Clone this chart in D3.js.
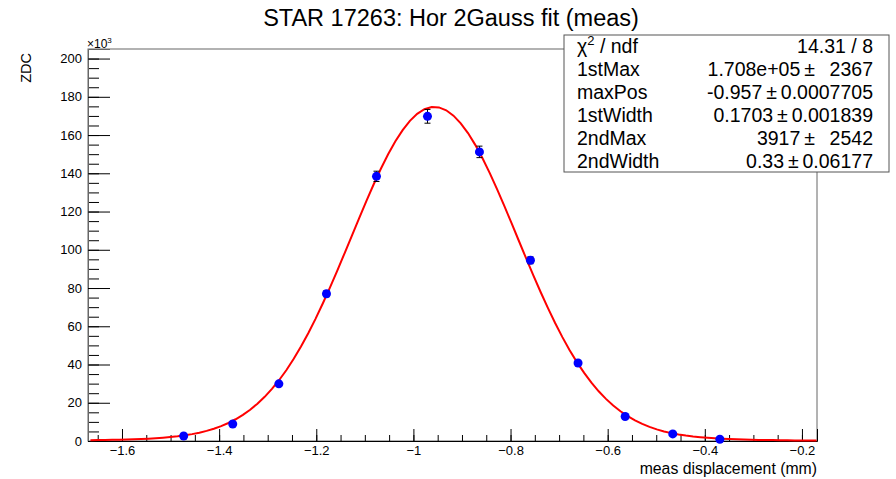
<!DOCTYPE html>
<html>
<head>
<meta charset="utf-8">
<script src="https://cdn.jsdelivr.net/npm/d3@7"></script>
<style>
  body { margin: 0; background: #fff; }
  text { font-family: "Liberation Sans", Arial, Helvetica, sans-serif; }
</style>
</head>
<body>
<div id="chart"></div>
<script>
// measured points (x in mm, y in units of 10^3)
const xVals = [-1.473, -1.372, -1.277, -1.179, -1.076, -0.971, -0.864, -0.759, -0.661, -0.564, -0.466, -0.369];
const yVals = [2.6, 8.9, 29.9, 77.0, 138.4, 169.8, 151.2, 94.5, 40.8, 12.8, 3.7, 0.9];
const yErrs = [0.5, 0.7, 1.0, 1.6, 2.7, 3.6, 3.0, 1.8, 1.1, 0.7, 0.5, 0.4];

// stats box
const statNames = ["1stMax", "maxPos", "1stWidth", "2ndMax", "2ndWidth"];
const statValues = ["1.708e+05", "-0.957", "0.1703", "3917", "0.33"];
const statErrors = [" 2367", "0.0007705", "0.001839", " 2542", "0.06177"];
const chi2Text = "14.31 / 8";

// fit parameters (as printed in the box)
const fitParams = [170800, -0.957, 0.1703, 3917, 0.33];

const xTicks = [-1.6, -1.4, -1.2, -1, -0.8, -0.6, -0.4, -0.2];
const yTicks = [0, 20, 40, 60, 80, 100, 120, 140, 160, 180, 200];

const W = 896, H = 479;
const frame = { left: 88, right: 817, top: 49, bottom: 441 };

const svg = d3.select('#chart')
    .append('svg')
    .attr('width', W)
    .attr('height', H);

const x = d3.scaleLinear()
    .domain([-1.67, -0.169])
    .range([frame.left, frame.right]);

const y = d3.scaleLinear()
    .domain([0, 205])
    .range([frame.bottom, frame.top]);

// frame
svg.append('rect')
    .attr('x', frame.left)
    .attr('y', frame.top)
    .attr('width', frame.right - frame.left)
    .attr('height', frame.bottom - frame.top)
    .attr('fill', 'none')
    .attr('stroke', '#666')
    .attr('stroke-width', 1);

// minor ticks
const xMinor = d3.range(-1.65, -0.17, 0.05).map(v => +v.toFixed(2));
const yMinor = d3.range(0, 205, 5);

svg.append('g')
    .attr('transform', `translate(0,${frame.bottom})`)
    .call(d3.axisBottom(x).tickValues(xMinor).tickSize(-6).tickFormat(''))
    .call(g => g.select('.domain').remove());

svg.append('g')
    .attr('transform', `translate(${frame.left},0)`)
    .call(d3.axisLeft(y).tickValues(yMinor).tickSize(-11).tickFormat(''))
    .call(g => g.select('.domain').remove());

// major ticks + labels
const xAxis = svg.append('g')
    .attr('transform', `translate(0,${frame.bottom})`)
    .call(d3.axisBottom(x).tickValues(xTicks).tickSize(-12).tickPadding(5)
        .tickFormat(d => d3.format('')(d)));
xAxis.select('.domain').attr('stroke', '#000');
xAxis.selectAll('text').attr('font-size', 13).attr('fill', '#000');

const yAxis = svg.append('g')
    .attr('transform', `translate(${frame.left},0)`)
    .call(d3.axisLeft(y).tickValues(yTicks).tickSize(-22).tickPadding(6));
yAxis.select('.domain').attr('stroke', '#666');
yAxis.selectAll('text').attr('font-size', 13).attr('fill', '#000');

svg.selectAll('.tick line').attr('stroke', '#000');

// x10^3
const mult = svg.append('text')
    .attr('x', frame.left - 1)
    .attr('y', 48)
    .attr('font-size', 12)
    .attr('fill', '#000');
mult.append('tspan').text('\u00d710');
mult.append('tspan').attr('dy', -5).attr('font-size', 8).text('3');

// axis titles
svg.append('text')
    .attr('transform', 'translate(31,53) rotate(-90)')
    .attr('text-anchor', 'end')
    .attr('font-size', 14.5)
    .attr('fill', '#000')
    .text('ZDC');

svg.append('text')
    .attr('x', frame.right)
    .attr('y', 474)
    .attr('text-anchor', 'end')
    .attr('font-size', 15.8)
    .attr('fill', '#000')
    .text('meas displacement (mm)');

// title
svg.append('text')
    .attr('x', 451)
    .attr('y', 26)
    .attr('text-anchor', 'middle')
    .attr('font-size', 23.5)
    .attr('fill', '#000')
    .text('STAR 17263: Hor 2Gauss fit (meas)');

// fit curve
const fitFn = v => {
    const [a1, mu, s1, a2, s2] = fitParams;
    return (a1 * Math.exp(-0.5 * ((v - mu) / s1) ** 2) +
            a2 * Math.exp(-0.5 * ((v - mu) / s2) ** 2)) / 1000;
};
const curveX = d3.range(0, 101).map(i => -1.665 + i * (1.495 / 100));
svg.append('path')
    .datum(curveX)
    .attr('fill', 'none')
    .attr('stroke', '#ff0000')
    .attr('stroke-width', 2)
    .attr('d', d3.line().x(d => x(d)).y(d => y(fitFn(d))));

// data points with error bars
const pts = svg.append('g')
    .selectAll('g')
    .data(xVals.map((v, i) => ({ x: v, y: yVals[i], e: yErrs[i] })))
    .join('g');

pts.append('line')
    .attr('x1', d => x(d.x)).attr('x2', d => x(d.x))
    .attr('y1', d => y(d.y - d.e)).attr('y2', d => y(d.y + d.e))
    .attr('stroke', '#000');
pts.selectAll('.cap')
    .data(d => [d.y - d.e, d.y + d.e].map(v => ({ x: d.x, v })))
    .join('line')
    .attr('class', 'cap')
    .attr('x1', d => x(d.x) - 3).attr('x2', d => x(d.x) + 3)
    .attr('y1', d => y(d.v)).attr('y2', d => y(d.v))
    .attr('stroke', '#000');
pts.append('circle')
    .attr('cx', d => x(d.x))
    .attr('cy', d => y(d.y))
    .attr('r', 4.5)
    .attr('fill', '#0000ff');

// stats box
const box = { x: 564, y: 35, w: 325, h: 137 };
const sb = svg.append('g');
sb.append('rect')
    .attr('x', box.x).attr('y', box.y)
    .attr('width', box.w).attr('height', box.h)
    .attr('fill', '#fff')
    .attr('stroke', '#555');

const fs = 19.5;
const rowH = box.h / 6;
const rowY = i => box.y + rowH * (i + 0.5) + 7;

const chi = sb.append('text')
    .attr('x', 577).attr('y', rowY(0))
    .attr('font-size', fs).attr('fill', '#000');
chi.append('tspan').text('\u03c7');
chi.append('tspan').attr('dy', -8).attr('font-size', 13).text('2');
chi.append('tspan').attr('dy', 8).text(' / ndf');

sb.append('text')
    .attr('x', 873).attr('y', rowY(0))
    .attr('text-anchor', 'end')
    .attr('font-size', fs).attr('fill', '#000')
    .text(chi2Text);

statNames.forEach((name, i) => {
    sb.append('text')
        .attr('x', 577).attr('y', rowY(i + 1))
        .attr('font-size', fs).attr('fill', '#000')
        .text(name);
    sb.append('text')
        .attr('x', 873).attr('y', rowY(i + 1))
        .attr('text-anchor', 'end')
        .attr('font-size', fs).attr('fill', '#000')
        .style('white-space', 'pre')
        .text(`${statValues[i]}\u2009\u00b1\u2009${statErrors[i].replace(' ', '\u00a0\u00a0')}`);
});
</script>
</body>
</html>
